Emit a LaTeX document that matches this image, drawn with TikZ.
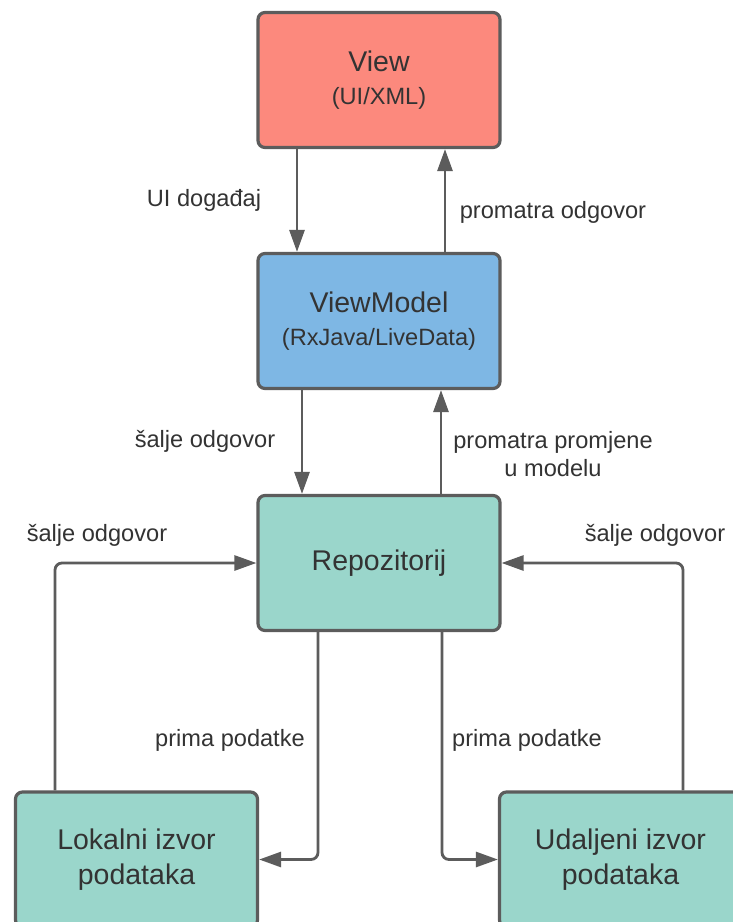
\documentclass[tikz,border=0pt]{standalone}
\usepackage{fontspec}
\setmainfont{Liberation Sans}
\usetikzlibrary{arrows.meta, calc}
\definecolor{viewred}{RGB}{252,137,125}
\definecolor{vmblue}{RGB}{126,183,228}
\definecolor{repoteal}{RGB}{154,214,203}
\definecolor{edgegray}{RGB}{92,92,92}
\definecolor{textgray}{RGB}{51,51,51}
\newcommand{\bigtxt}{\fontsize{28.5}{35}\selectfont}
\newcommand{\smalltxt}{\fontsize{23.6}{28}\selectfont}

\begin{document}
\begin{tikzpicture}[x=1pt, y=-1pt,
    box/.style={draw=edgegray, line width=3.2pt, rounded corners=7pt,
        minimum width=242pt, minimum height=135pt, align=center,
        text=textgray, inner sep=0pt, font=\bigtxt},
    flow/.style={draw=edgegray, line width=2.8pt, rounded corners=7pt,
        -{Triangle[length=22pt, width=15pt]}},
    lbl/.style={text=textgray, align=center, inner sep=0pt, font=\smalltxt}]
            \useasboundingbox[fill=white] (0,0) rectangle (732,922);

            \node[box, fill=viewred] (view) at (379, 80)
                {View\\[-2pt]{\smalltxt (UI/XML)}};
            \node[box, fill=vmblue] (vm) at (379, 321)
                {ViewModel\\[-2pt]{\smalltxt (RxJava/LiveData)}};
            \node[box, fill=repoteal] (repo) at (379, 563) {Repozitorij};
            \node[box, fill=repoteal] (lok) at (136.5, 859.5)
                {Lokalni izvor\\podataka};
            \node[box, fill=repoteal] (uda) at (620.5, 859.5)
                {Udaljeni izvor\\podataka};

            \draw[flow] ([xshift=-82pt]view.south) -- ([xshift=-82pt]vm.north);
            \draw[flow] ([xshift=66pt]vm.north) -- ([xshift=66pt]view.south);
            \draw[flow] ([xshift=-77pt]vm.south) -- ([xshift=-77pt]repo.north);
            \draw[flow] ([xshift=62pt]repo.north) -- ([xshift=62pt]vm.south);

            \draw[flow] ([xshift=-81.5pt]lok.north) |- (repo.west);
            \draw[flow] ([xshift=62.5pt]uda.north) |- (repo.east);
            \draw[flow] ([xshift=-61pt]repo.south) |- (lok.east);
            \draw[flow] ([xshift=63pt]repo.south) |- (uda.west);

            \node[lbl] (uievent) at (204, 200) {UI događaj};
            \node[lbl] (watchresp) at (553, 212) {promatra odgovor};
            \node[lbl] (sendresp) at (205, 441) {šalje odgovor};
            \node[lbl] (watchchg) at (553, 454) {promatra promjene\\u modelu};
            \node[lbl] (lokresp) at (97, 535) {šalje odgovor};
            \node[lbl] (udaresp) at (655, 535) {šalje odgovor};
            \node[lbl] (lokget) at (230, 740) {prima podatke};
            \node[lbl] (udaget) at (527, 740) {prima podatke};
        \end{tikzpicture}
\end{document}
